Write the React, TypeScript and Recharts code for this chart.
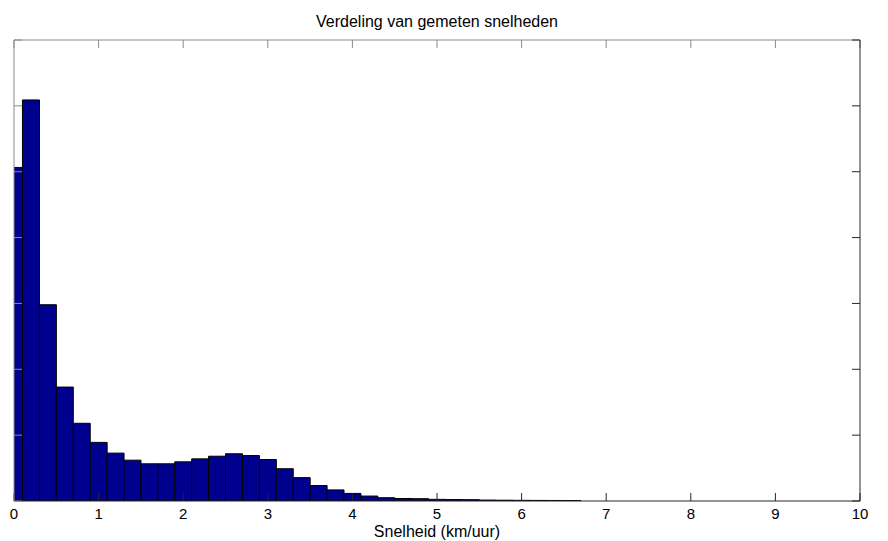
import React from 'react';
import { BarChart, Bar, XAxis, YAxis } from 'recharts';

const binCenters = [
  0, 0.2, 0.4, 0.6, 0.8, 1.0, 1.2, 1.4, 1.6, 1.8, 2.0, 2.2, 2.4, 2.6, 2.8, 3.0, 3.2,
  3.4, 3.6, 3.8, 4.0, 4.2, 4.4, 4.6, 4.8, 5.0, 5.2, 5.4, 5.6, 5.8, 6.0, 6.2, 6.4, 6.6,
];
const counts = [
  5065, 6090, 2980, 1730, 1180, 890, 727, 620, 565, 565, 595, 640, 680, 717, 690, 630, 490,
  355, 235, 168, 115, 75, 50, 38, 35, 25, 22, 20, 14, 12, 10, 9, 8, 7,
];
const xTicks = [0, 1, 2, 3, 4, 5, 6, 7, 8, 9, 10];
const yTicks = [0, 1000, 2000, 3000, 4000, 5000, 6000, 7000];

const title = 'Verdeling van gemeten snelheden';
const xLabel = 'Snelheid (km/uur)';

const data = binCenters.map((x, i) => ({ x, count: counts[i] }));

const FONT = '"Liberation Sans", Arial, sans-serif';
const DARK = '#262626';
const GREY = '#8a8a8a';

const NoLabel = () => <g />;

export default function App() {
  return (
    <div
      style={{
        position: 'absolute',
        left: 0,
        top: 0,
        width: 888,
        height: 541,
        background: '#fff',
        fontFamily: FONT,
      }}
    >
      <div
        style={{
          position: 'absolute',
          left: 14,
          width: 846,
          top: 14,
          textAlign: 'center',
          fontSize: 16,
          lineHeight: '16px',
          color: '#000',
        }}
      >
        {title}
      </div>
      <BarChart
        width={888}
        height={541}
        data={data}
        margin={{ top: 40, right: 28, bottom: 0, left: 14 }}
        barCategoryGap={0}
        barGap={0}
      >
        <XAxis
          dataKey="x"
          type="number"
          domain={[0, 10]}
          ticks={xTicks}
          interval={0}
          allowDataOverflow
          height={40}
          tickLine={false}
          tickSize={0}
          tickMargin={7}
          stroke={DARK}
          tick={{ fill: '#000', fontSize: 15, fontFamily: FONT }}
          label={{
            value: xLabel,
            position: 'insideBottom',
            offset: 4,
            fill: '#000',
            fontSize: 16,
            fontFamily: FONT,
          }}
        />
        <XAxis
          xAxisId="bottomTicks"
          dataKey="x"
          orientation="bottom"
          type="number"
          domain={[0, 10]}
          ticks={xTicks}
          interval={0}
          allowDataOverflow
          mirror
          height={20}
          tick={NoLabel}
          tickSize={8}
          tickLine
          axisLine={false}
          stroke={DARK}
        />
        <XAxis
          xAxisId="top"
          dataKey="x"
          orientation="top"
          type="number"
          domain={[0, 10]}
          ticks={xTicks}
          interval={0}
          allowDataOverflow
          mirror
          height={20}
          tick={NoLabel}
          tickSize={8}
          tickLine
          stroke={GREY}
        />
        <YAxis
          type="number"
          domain={[0, 7000]}
          ticks={yTicks}
          interval={0}
          allowDataOverflow
          mirror
          width={20}
          tick={NoLabel}
          tickSize={8}
          tickLine
          stroke={GREY}
        />
        <YAxis
          yAxisId="right"
          orientation="right"
          type="number"
          domain={[0, 7000]}
          ticks={yTicks}
          interval={0}
          allowDataOverflow
          mirror
          width={20}
          tick={NoLabel}
          tickSize={8}
          tickLine
          stroke={DARK}
        />
        <Bar
          dataKey="count"
          fill="#00008F"
          stroke="#000"
          strokeWidth={1}
          isAnimationActive={false}
        />
      </BarChart>
    </div>
  );
}
